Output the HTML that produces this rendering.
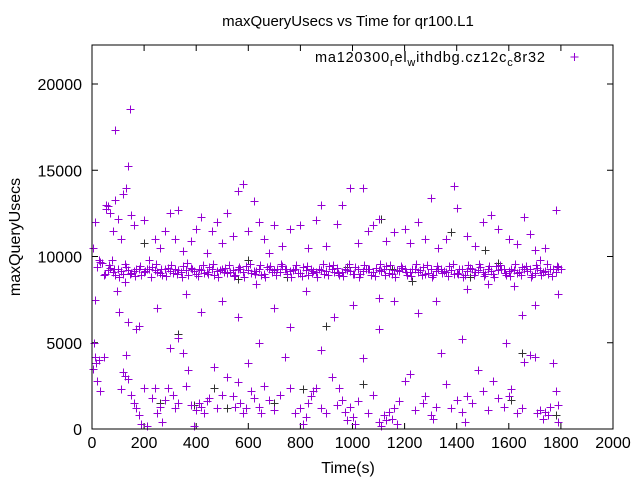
<!DOCTYPE html>
<html><head><meta charset="utf-8"><style>
body{margin:0;background:#fff;}
svg text{font-family:"Liberation Sans",sans-serif;}
</style></head><body>
<svg id="chart" width="640" height="480" viewBox="0 0 640 480" xmlns="http://www.w3.org/2000/svg">
<text x="348" y="26" text-anchor="middle" font-size="15">maxQueryUsecs vs Time for qr100.L1</text>
<text transform="translate(20,237) rotate(-90)" text-anchor="middle" font-size="16">maxQueryUsecs</text>
<text x="348" y="473" text-anchor="middle" font-size="16">Time(s)</text>
<g id="axes"></g>
<g id="marks"></g>
<rect x="92" y="45" width="521" height="384" fill="none" stroke="#000" stroke-width="1"/>
<g>
<text x="315" y="62" font-size="14.5" textLength="230">ma120300<tspan font-size="11" dy="4">r</tspan><tspan dy="-4">el</tspan><tspan font-size="11" dy="4">w</tspan><tspan dy="-4">ithdbg.cz12c</tspan><tspan font-size="11" dy="4">c</tspan><tspan dy="-4">8r32</tspan></text>
<path d="M570.5 57h8M574.5 53v8" stroke="#9400d3" stroke-width="1"/>
</g>
</svg>
<script>
const xTicks=[0,200,400,600,800,1000,1200,1400,1600,1800,2000];
const yTicks=[0,5000,10000,15000,20000];
const bandT1=[20,40,60,80,100,120,140,160,180,200,220,240,260,280,300,320,340,360,380,400,420,440,460,480,500,520,540,560,580,600,620,640,660,680,700,720,740,760,780,800,820,840,860,880,900,920,940,960,980,1000,1020,1040,1060,1080,1100,1120,1140,1160,1180,1200,1220,1240,1260,1280,1300,1320,1340,1360,1380,1400,1420,1440,1460,1480,1500,1520,1540,1560,1580,1600,1620,1640,1660,1680,1700,1720,1740,1760,1780,1800];
const bandV1=[9400,9600,9200,9100,9300,9000,9200,9150,9250,9100,9300,9200,9050,9250,9150,9300,9100,9200,9350,9000,9200,9100,9300,9150,9250,9050,9200,9300,9100,9200,9150,9250,9000,9300,9200,9100,9250,9150,9300,9050,9200,9300,9100,9200,9150,9250,9350,9100,9200,9000,9300,9150,9250,9100,9200,9300,9050,9200,9150,9250,9100,9300,9200,9000,9250,9150,9300,9100,9200,9050,9250,9150,9300,9200,9100,9250,9000,9200,9300,9150,9200,9100,9250,9300,9050,9200,9150,9250,9100,9300];
const bandT2=[30,50,70,90,110,130,150,170,190,210,230,250,270,290,310,330,350,370,390,410,430,450,470,490,510,530,550,570,590,610,630,650,670,690,710,730,750,770,790,810,830,850,870,890,910,930,950,970,990,1010,1030,1050,1070,1090,1110,1130,1150,1170,1190,1210,1230,1250,1270,1290,1310,1330,1350,1370,1390,1410,1430,1450,1470,1490,1510,1530,1550,1570,1590,1610,1630,1650,1670,1690,1710,1730,1750,1770,1790];
const bandV2=[9700,9000,9350,8950,9150,9400,9050,9300,8900,9250,9400,9100,8950,9350,9050,9200,9450,8950,9150,9300,9050,9400,8900,9200,9350,9100,8950,9300,9450,9050,9150,8900,9400,9100,9250,9450,9000,9200,9050,9400,8950,9150,9300,9000,9450,9100,8900,9300,9150,9400,9000,9250,8950,9350,9150,9450,9000,9200,9350,8900,9250,9100,9400,9050,8950,9300,9150,9450,9000,9250,8950,9350,9100,9400,9000,9150,9450,9250,8900,9300,9050,9400,9150,8950,9350,9100,9000,9300,9400];
const bandT3=[25,45,65,85,105,125,145,165,185,205,225,245,265,285,305,325,345,365,385,405,425,445,465,485,505,525,545,565,585,605,625,645,665,685,705,725,745,765,785,805,825,845,865,885,905,925,945,965,985,1005,1025,1045,1065,1085,1105,1125,1145,1165,1185,1205,1225,1245,1265,1285,1305,1325,1345,1365,1385,1405,1425,1445,1465,1485,1505,1525,1545,1565,1585,1605,1625,1645,1665,1685,1705,1725,1745,1765,1785];
const bandV3=[9800,8900,9500,9300,8800,9550,9000,8850,9450,9150,8800,9550,9300,8850,9500,9000,8800,9600,9250,8850,9500,9000,9550,8800,9100,9500,8850,9400,8800,9550,9000,9500,8800,9450,8900,9550,9300,8800,9500,8850,9450,9050,8800,9550,8900,9500,9050,8850,9550,9000,8800,9500,9300,8850,9550,8900,9500,8800,9450,9100,8850,9550,8900,9500,8800,9450,9050,8850,9550,9000,8800,9500,8900,9550,8850,9450,8800,9500,9050,8850,9550,8900,9450,8800,9500,8900,9550,8850,9450];
const scatT=[5,8,10,15,20,25,30,12,5,10,45,60,70,55,80,90,100,110,120,130,150,160,75,95,105,125,140,170,180,110,120,130,125,140,150,160,170,180,190,200,210,230,240,250,260,270,280,290,300,310,320,330,350,360,370,380,390,400,410,420,430,440,450,470,480,500,520,540,550,560,570,580,590,600,610,620,640,650,660,680,700,720,740,760,780,800,810,820,830,840,850,860,880,900,920,940,950,960,970,980,990,1000,1010,1020,1040,1060,1080,1100,1110,1120,1130,1140,1150,1160,1170,1180,1200,1220,1240,1270,1280,1300,1310,1320,1340,1360,1380,1400,1420,1430,1440,1460,1480,1500,1520,1540,1560,1580,1600,1610,1630,1650,1660,1680,1700,1710,1720,1730,1740,1750,1760,1770,1780,1790,1790,200,220,240,260,280,300,320,330,350,380,400,420,440,460,480,500,520,540,560,580,600,620,640,660,680,700,730,760,800,830,860,880,900,940,960,990,1020,1060,1080,1100,1130,1160,1200,1220,1250,1280,1300,1330,1360,1390,1400,1440,1470,1500,1530,1560,1600,1630,1660,1680,1700,1720,1740,1780,1040,630,820,1100,1160,1320,1440,1520,1620,1700,1790,500,360,420,250,560,700,930,1000,1250,1650,1420,1590,1100,880,760,640,330,88,146,138,54];
const scatV=[3500,5000,4200,3800,2800,4000,2200,7500,10500,12000,4200,12900,12500,13000,11500,13300,12200,11000,13600,14000,12400,11800,9800,8000,6800,8500,6200,5800,6000,2300,3300,4300,3100,2900,2000,1500,1200,800,300,2400,200,1800,2400,900,1300,400,1700,2400,4700,2000,1200,1500,4400,2500,3400,1400,200,1100,1500,1300,900,1600,1800,3600,1200,2000,3000,1900,1300,2700,1500,900,1200,3800,2200,1800,1300,900,2500,1700,1100,2000,4200,2400,900,1200,300,700,1500,1900,2200,2400,1200,900,3000,1400,2400,1700,1000,500,1300,700,300,1600,4100,900,2000,400,200,800,500,1000,600,1200,300,1600,2800,3200,1100,1500,1900,800,600,1300,4400,2600,1200,1700,1000,400,1900,1500,3400,2200,1100,2800,1800,1300,1900,2300,900,1200,3900,4300,4200,900,1100,600,1000,800,1300,3800,2200,1400,400,12100,9800,11000,10500,11500,12500,11000,12700,10300,10900,11600,12300,10200,11500,12000,10800,12500,11200,13800,14200,11500,13200,12000,11000,10200,11800,10600,11600,11800,10500,12100,13000,10600,11900,13000,14000,10800,11500,11800,12200,10900,11400,11600,10800,12000,11000,13400,10500,11000,14100,12800,11200,10600,12000,12400,11600,11000,10700,12300,11300,10400,9800,10500,12700,14000,8400,8000,7600,7400,7400,8100,8400,8300,7200,7800,7400,7800,6800,7000,6500,7000,6500,7200,6700,6600,5200,5000,5800,4600,5900,5000,5300,17330,18550,15250,12750];
const blkT=[330,470,520,700,900,1040,1110,1380,1510,1650,1780,200,600,750,390,560,980,1230,1560,1690,260,810,1150,1450,1610];
const blkV=[5500,2400,1200,1500,6000,2600,12200,11400,10400,4400,800,10800,9800,8800,1400,8700,9400,8600,9600,8900,1500,2300,9300,8800,1700];
const X=t=>92+t/2000*521;
const Y=v=>429-v/20000*345;
const NS="http://www.w3.org/2000/svg";
const axes=document.getElementById('axes');
xTicks.forEach(t=>{
 const p=document.createElementNS(NS,'path');
 p.setAttribute('d',`M${X(t)} 429v-6M${X(t)} 45v6`);
 p.setAttribute('stroke','#000');
 
 
 axes.appendChild(p);
 const tx=document.createElementNS(NS,'text');
 tx.setAttribute('x',X(t));tx.setAttribute('y',448);
 tx.setAttribute('text-anchor','middle');tx.setAttribute('font-size','16');
 tx.textContent=t;
 
 
 axes.appendChild(tx);
});
yTicks.forEach(v=>{
 const p=document.createElementNS(NS,'path');
 p.setAttribute('d',`M92 ${Y(v)}h6M613 ${Y(v)}h-6`);
 p.setAttribute('stroke','#000');
 
 
 axes.appendChild(p);
 const tx=document.createElementNS(NS,'text');
 tx.setAttribute('x',82);tx.setAttribute('y',Y(v)+6);
 tx.setAttribute('text-anchor','end');tx.setAttribute('font-size','16');
 tx.textContent=v;
 
 
 axes.appendChild(tx);
});
const marks=document.getElementById('marks');
function plus(t,v,c){
 const p=document.createElementNS(NS,'path');
 const x=Math.round(X(t))+0.5,y=Math.round(Y(v))+0.5;
 p.setAttribute('d',`M${x-4} ${y}h8M${x} ${y-4}v8`);
 p.setAttribute('stroke',c);
 
 
 marks.appendChild(p);
}
blkT.forEach((t,i)=>plus(t,blkV[i],'#333'));
bandT1.forEach((t,i)=>plus(t,bandV1[i],'#9400d3'));
bandT2.forEach((t,i)=>plus(t,bandV2[i],'#9400d3'));
bandT3.forEach((t,i)=>plus(t,bandV3[i],'#9400d3'));
scatT.forEach((t,i)=>plus(t,scatV[i],'#9400d3'));
</script>
</body></html>
